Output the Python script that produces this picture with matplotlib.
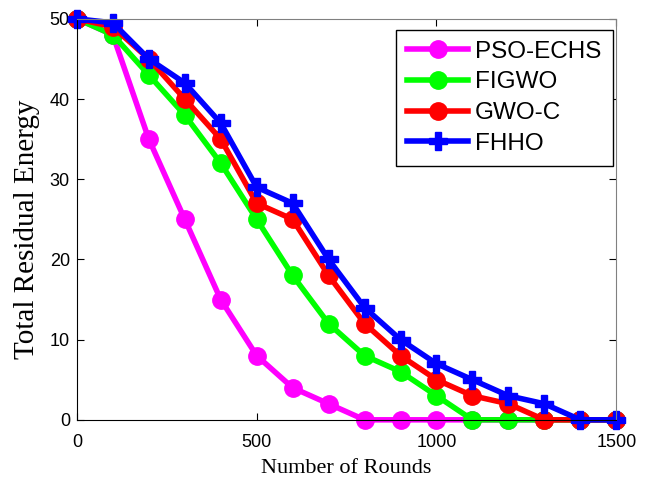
import matplotlib

matplotlib.use("Agg")

import matplotlib.pyplot as plt  # noqa: E402

rounds = [0, 100, 200, 300, 400, 500, 600, 700, 800, 900, 1000, 1100, 1200, 1300, 1400, 1500]
pso_echs = [50, 48, 35, 25, 15, 8, 4, 2, 0, 0, 0, 0, 0, 0, 0, 0]
figwo = [50, 48, 43, 38, 32, 25, 18, 12, 8, 6, 3, 0, 0, 0, 0, 0]
gwo_c = [50, 49, 45, 40, 35, 27, 25, 18, 12, 8, 5, 3, 2, 0, 0, 0]
fhho = [50, 49.5, 45, 42, 37, 29, 27, 20, 14, 10, 7, 5, 3, 2, 0, 0]

series = [
    ("PSO-ECHS", pso_echs, "#ff00ff", "o"),
    ("FIGWO", figwo, "#00ff00", "o"),
    ("GWO-C", gwo_c, "#ff0000", "o"),
    ("FHHO", fhho, "#0000ff", "P"),
]

fig = plt.figure(figsize=(6.46, 4.82), dpi=100)
ax = fig.add_axes([0.119, 0.129, 0.835, 0.832])

for name, values, color, marker in series:
    ax.plot(rounds, values, color=color, marker=marker, linewidth=4,
            markersize=12.5 if marker == "o" else 13, label=name, clip_on=False)

ax.set_xlim(0, 1500)
ax.set_ylim(0, 50)
ax.set_xticks([0, 500, 1000, 1500])
ax.set_yticks([0, 10, 20, 30, 40, 50])
ax.tick_params(direction="in", top=True, right=True, labelsize=13, length=5)
ax.tick_params(axis="x", pad=10)
ax.tick_params(axis="y", pad=5)
for label in ax.get_xticklabels() + ax.get_yticklabels():
    label.set_family("Liberation Sans")
for side in ("top", "right"):
    ax.spines[side].set_color("#808080")
ax.set_xlabel("Number of Rounds", family="Liberation Serif", fontsize=16, labelpad=6)
ax.set_ylabel("Total Residual Energy", family="Liberation Serif", fontsize=21)
ax.yaxis.set_label_coords(-0.068, 0.474)

leg = ax.legend(loc="upper right", bbox_to_anchor=(0.993, 0.973),
                prop={"family": "Liberation Sans", "size": 17.5},
                fancybox=False, edgecolor="black", framealpha=1,
                handlelength=2.5, borderaxespad=0, labelspacing=0.36,
                handletextpad=0.3, borderpad=0.45)
leg.get_frame().set_linewidth(1.0)
leg.set_zorder(5)

fig.savefig("out.png", dpi=100)
